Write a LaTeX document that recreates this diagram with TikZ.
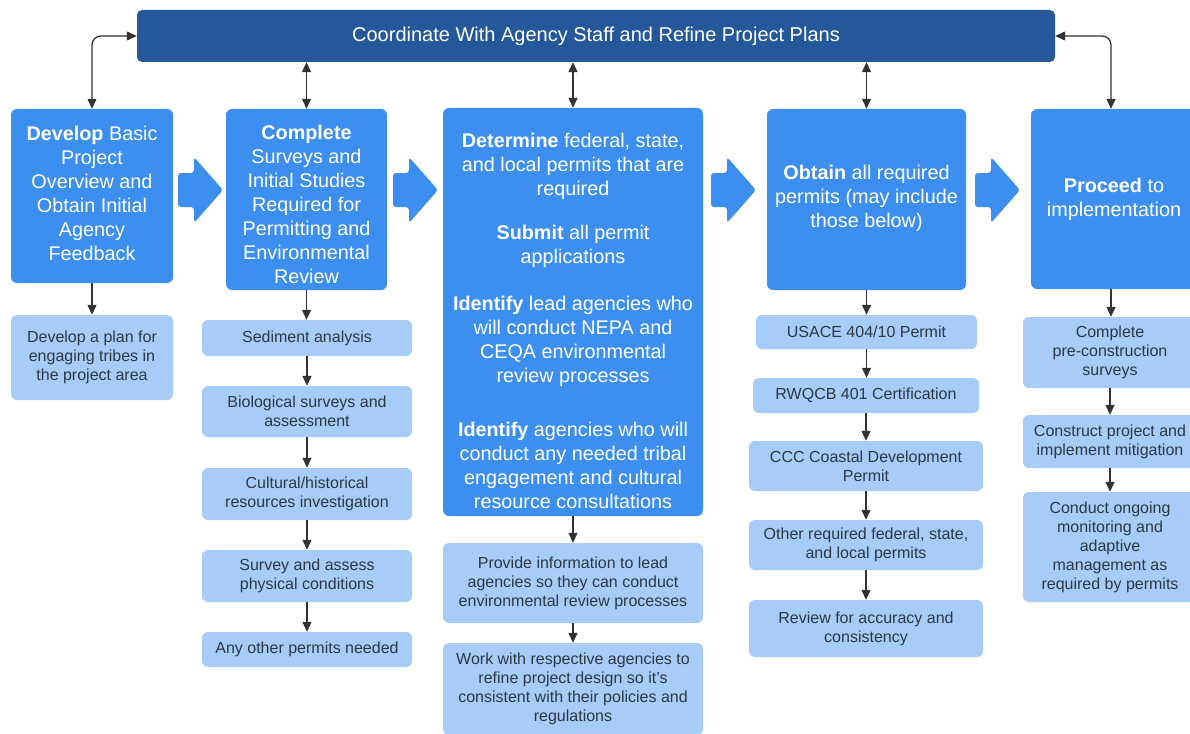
\documentclass[tikz,border=0pt]{standalone}
\usepackage{fontspec}
\setmainfont{Liberation Sans}
\usetikzlibrary{arrows.meta}
\definecolor{barblue}{HTML}{25589A}
\definecolor{mainblue}{HTML}{3D8FEF}
\definecolor{subblue}{HTML}{A6CCF7}
\definecolor{subtext}{HTML}{2E3744}
\definecolor{arrowgray}{HTML}{333333}
\newcommand{\chevronat}[1]{%
  \fill[mainblue, rounded corners=3pt, shift={(#1,0)}]
    (0,173) -- (16,173) -- (16,157) -- (45,190) -- (16,223) -- (16,207) -- (0,207) -- cycle;}
\begin{document}
\begin{tikzpicture}[x=1pt,y=-1pt,
  mainbox/.style={fill=mainblue, rounded corners=6pt, inner sep=0pt},
  maintext/.style={inner sep=0pt, text=white, align=center,
    font=\fontsize{19.8}{24}\selectfont},
  subbox/.style={fill=subblue, rounded corners=6pt, inner sep=0pt, text=subtext, align=center,
    font=\fontsize{16}{19}\selectfont},
  conn/.style={draw=arrowgray, line width=1.3pt, -{Triangle[length=10pt,width=9pt]}},
  dconn/.style={draw=arrowgray, line width=1.3pt,
    {Triangle[length=10pt,width=9pt]}-{Triangle[length=10pt,width=9pt]}},
]
\fill[white] (0,0) rectangle (1190,733);
\useasboundingbox (0,0) rectangle (1190,733);

% top bar
\node[fill=barblue, rounded corners=5pt, inner sep=0pt, minimum width=918pt, minimum height=52pt,
  text=white, font=\fontsize{20}{24}\selectfont] (bar) at (596,36)
  {Coordinate With Agency Staff and Refine Project Plans};

% main boxes
\node[mainbox, minimum width=162pt, minimum height=174pt] (b1) at (92,196) {};
\node[maintext] (b1t) at ([yshift=3pt]b1.center)
  {\textbf{Develop} Basic\\Project\\Overview and\\Obtain Initial\\Agency\\Feedback};
\node[mainbox, minimum width=161pt, minimum height=181pt] (b2) at (306.5,199.5) {};
\node[maintext] (b2t) at ([yshift=-5pt]b2.center)
  {\textbf{Complete}\\Surveys and\\Initial Studies\\Required for\\Permitting and\\Environmental\\Review};
\node[mainbox, minimum width=260pt, minimum height=408pt] (b3) at (573,312) {};
\node[maintext] (b3t) at ([yshift=-9pt]b3.center)
  {\textbf{Determine} federal, state,\\and local permits that are\\required\\[20pt]
   \textbf{Submit} all permit\\applications\\[23pt]
   \textbf{Identify} lead agencies who\\will conduct NEPA and\\CEQA environmental\\review processes\\[30pt]
   \textbf{Identify} agencies who will\\conduct any needed tribal\\engagement and cultural\\resource consultations};
\node[mainbox, minimum width=199pt, minimum height=181pt] (b4) at (866.5,199.5) {};
\node[maintext] (b4t) at ([yshift=1pt]b4.center)
  {\textbf{Obtain} all required\\permits (may include\\those below)};
\node[mainbox, minimum width=166pt, minimum height=180pt] (b5) at (1114,199) {};
\node[maintext] (b5t) at (b5.center)
  {\textbf{Proceed} to\\implementation};

% chevrons
\chevronat{178}
\chevronat{393}
\chevronat{711}
\chevronat{975}

% sub boxes column 1
\node[subbox, minimum width=162pt, minimum height=85pt] (s1) at (92,357.5)
  {Develop a plan for\\engaging tribes in\\the project area};
% column 2
\node[subbox, minimum width=210pt, minimum height=36pt] (s2a) at (307,338) {Sediment analysis};
\node[subbox, minimum width=210pt, minimum height=51pt] (s2b) at (307,411.5) {Biological surveys and\\assessment};
\node[subbox, minimum width=210pt, minimum height=52pt] (s2c) at (307,494) {Cultural/historical\\resources investigation};
\node[subbox, minimum width=210pt, minimum height=52pt] (s2d) at (307,576) {Survey and assess\\physical conditions};
\node[subbox, minimum width=210pt, minimum height=35pt] (s2e) at (307,649.5) {Any other permits needed};
% column 3
\node[subbox, minimum width=260pt, minimum height=80pt] (s3a) at (573,583)
  {Provide information to lead\\agencies so they can conduct\\environmental review processes};
\node[subbox, minimum width=260pt, minimum height=92pt] (s3b) at (573,689)
  {Work with respective agencies to\\refine project design so it's\\consistent with their policies and\\regulations};
% column 4
\node[subbox, minimum width=221pt, minimum height=34pt] (s4a) at (866.5,332) {USACE 404/10 Permit};
\node[subbox, minimum width=226pt, minimum height=35pt] (s4b) at (866,395.5) {RWQCB 401 Certification};
\node[subbox, minimum width=234pt, minimum height=50pt] (s4c) at (866,466) {CCC Coastal Development\\Permit};
\node[subbox, minimum width=234pt, minimum height=50pt] (s4d) at (866,545) {Other required federal, state,\\and local permits};
\node[subbox, minimum width=234pt, minimum height=57pt] (s4e) at (866,628.5) {Review for accuracy and\\consistency};
% column 5
\node[subbox, minimum width=174pt, minimum height=71pt] (s5a) at (1110,352.5) {Complete\\pre-construction\\surveys};
\node[subbox, minimum width=174pt, minimum height=53pt] (s5b) at (1110,441.5) {Construct project and\\implement mitigation};
\node[subbox, minimum width=174pt, minimum height=110pt] (s5c) at (1110,547)
  {Conduct ongoing\\monitoring and\\adaptive\\management as\\required by permits};

% connectors to top bar
\draw[dconn, rounded corners=9pt] (bar.west) -| (b1.north);
\draw[dconn, rounded corners=9pt] (bar.east) -| ([xshift=-3pt]b5.north);
\draw[dconn] (b2.north |- bar.south) -- (b2.north);
\draw[dconn] (b3.north |- bar.south) -- (b3.north);
\draw[dconn] (b4.north |- bar.south) -- (b4.north);

% vertical flow arrows
\draw[conn] (b1.south) -- (s1.north);
\draw[conn] (b2.south) -- (b2.south |- s2a.north);
\draw[conn] (s2a.south) -- (s2b.north);
\draw[conn] (s2b.south) -- (s2c.north);
\draw[conn] (s2c.south) -- (s2d.north);
\draw[conn] (s2d.south) -- (s2e.north);
\draw[conn] (b3.south) -- (s3a.north);
\draw[conn] (s3a.south) -- (s3b.north);
\draw[conn] (b4.south) -- (b4.south |- s4a.north);
\draw[conn] (s4a.south) -- (s4a.south |- s4b.north);
\draw[conn] (s4b.south) -- (s4c.north);
\draw[conn] (s4c.south) -- (s4d.north);
\draw[conn] (s4d.south) -- (s4e.north);
\draw[conn] ([xshift=-3pt]b5.south) -- ([xshift=-3pt]b5.south |- s5a.north);
\draw[conn] (s5a.south) -- (s5b.north);
\draw[conn] (s5b.south) -- (s5c.north);
\end{tikzpicture}
\end{document}
